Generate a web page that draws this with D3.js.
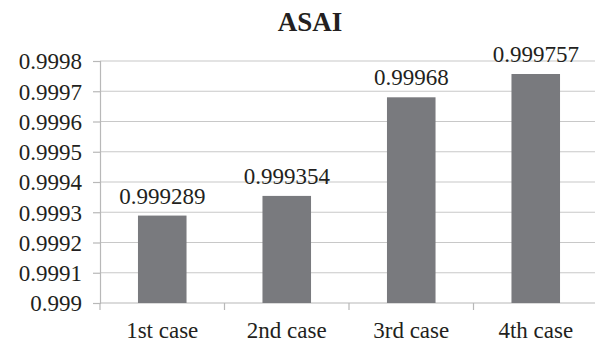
<!DOCTYPE html>
<html>
<head>
<meta charset="utf-8">
<script src="https://cdn.jsdelivr.net/npm/d3@7"></script>
<style>
  html, body { margin: 0; padding: 0; background: #fff; }
  svg { display: block; }
</style>
</head>
<body>
<svg id="chart" width="595" height="345"></svg>
<script>
// ASAI values per case
const categories = ["1st case", "2nd case", "3rd case", "4th case"];
const values = [0.999289, 0.999354, 0.99968, 0.999757];
const valueLabels = ["0.999289", "0.999354", "0.99968", "0.999757"];
const yTicks = [0.999, 0.9991, 0.9992, 0.9993, 0.9994, 0.9995, 0.9996, 0.9997, 0.9998];
const yTickLabels = ["0.999", "0.9991", "0.9992", "0.9993", "0.9994", "0.9995", "0.9996", "0.9997", "0.9998"];

const FONT = '"Liberation Serif", "Times New Roman", serif';
const INK = "#231f20";
const AXIS = "#b8b8b8";

const svg = d3.select("#chart");
const margin = { left: 100, right: -3, top: 61, bottom: 42 };
const W = 595, H = 345;
const plotW = W - margin.left - margin.right;
const plotH = H - margin.top - margin.bottom;

const x = d3.scaleBand().domain(categories).range([0, plotW]).paddingInner(0.61).paddingOuter(0.305);
const y = d3.scaleLinear().domain([0.999, 0.9998]).range([plotH, 0]);

const g = svg.append("g").attr("transform", `translate(${margin.left},${margin.top})`);

// Horizontal gridlines
g.selectAll("line.grid").data(yTicks.slice(1)).enter().append("line")
  .attr("class", "grid")
  .attr("x1", 0).attr("x2", plotW)
  .attr("y1", d => y(d)).attr("y2", d => y(d))
  .attr("stroke", "#c8c8c8").attr("stroke-width", 1.2);

// Y axis
const yAxis = d3.axisLeft(y).tickValues(yTicks)
  .tickFormat((d, i) => yTickLabels[i]).tickSize(7).tickPadding(11);
const yg = g.append("g").call(yAxis).attr("font-family", null).attr("font-size", null);
yg.select(".domain").attr("stroke", AXIS).attr("stroke-width", 1.2);
yg.selectAll(".tick line").attr("stroke", AXIS).attr("stroke-width", 1.2);
yg.selectAll(".tick text")
  .style("font-family", FONT).style("font-size", "23px")
  .attr("fill", INK).attr("dy", "0.34em");

// X axis with tick marks between categories
const xg = g.append("g").attr("transform", `translate(0,${plotH})`);
xg.append("line").attr("x1", 0).attr("x2", plotW).attr("stroke", AXIS).attr("stroke-width", 1.2);
const step = x.step();
xg.selectAll("line.sep").data(d3.range(0, categories.length + 1)).enter().append("line")
  .attr("class", "sep")
  .attr("x1", i => i * step).attr("x2", i => i * step)
  .attr("y1", 0).attr("y2", 7)
  .attr("stroke", AXIS).attr("stroke-width", 1.2);
xg.selectAll("text").data(categories).enter().append("text")
  .attr("x", d => x(d) + x.bandwidth() / 2)
  .attr("y", 35)
  .attr("text-anchor", "middle")
  .style("font-family", FONT).style("font-size", "23px")
  .attr("fill", INK)
  .text(d => d);

// Bars
g.selectAll("rect.bar").data(values).enter().append("rect")
  .attr("class", "bar")
  .attr("x", (d, i) => x(categories[i]))
  .attr("width", x.bandwidth())
  .attr("y", d => y(d))
  .attr("height", d => plotH - y(d))
  .attr("fill", "#797a7e");

// Value labels
g.selectAll("text.val").data(values).enter().append("text")
  .attr("class", "val")
  .attr("x", (d, i) => x(categories[i]) + x.bandwidth() / 2)
  .attr("y", d => y(d) - 12)
  .attr("text-anchor", "middle")
  .style("font-family", FONT).style("font-size", "23px")
  .attr("fill", INK)
  .text((d, i) => valueLabels[i]);

// Title
svg.append("text")
  .attr("x", 310).attr("y", 31)
  .attr("text-anchor", "middle")
  .style("font-family", FONT).style("font-size", "27px").style("font-weight", "bold")
  .attr("fill", INK)
  .text("ASAI");
</script>
</body>
</html>
